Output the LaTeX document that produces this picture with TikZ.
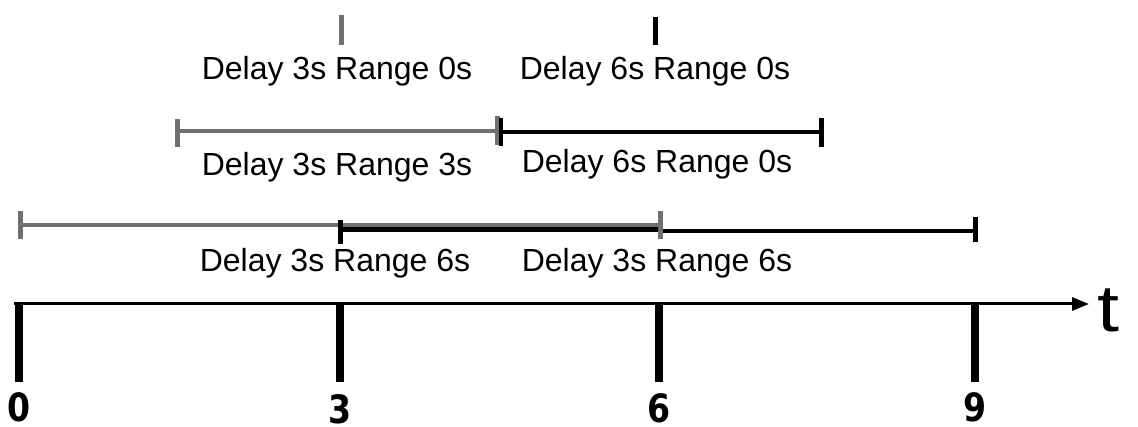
\documentclass[tikz,border=0pt]{standalone}
\usepackage{fontspec}
\setmainfont{Liberation Sans}
\newfontfamily\numfont{DejaVu Sans}
\usetikzlibrary{arrows.meta}
\definecolor{spangray}{HTML}{707070}
\newcommand{\ticknum}[1]{\scalebox{0.85}[1]{#1}}
\tikzset{
  lbl/.style={anchor=base, inner sep=0pt, font=\fontsize{32}{36}\selectfont},
  num/.style={anchor=base, inner sep=0pt, font=\numfont\bfseries\fontsize{39}{42}\selectfont},
  axisline/.style={line width=3pt, -{Triangle[length=17pt,width=13pt]}},
  bigtick/.style={line width=8pt},
  graybar/.style={line width=3.5pt, spangray},
  blackbar/.style={line width=3.5pt, black},
  graytick/.style={line width=5pt, spangray},
  blacktick/.style={line width=5pt, black},
}
\begin{document}
\begin{tikzpicture}[x=1pt, y=-1pt]
\useasboundingbox (0,0) rectangle (1138,427);

% time axis
\coordinate (a0) at (14,304);
\coordinate (aend) at (1089,304);
\draw[axisline] (a0) -- (aend);
\node[anchor=base west, inner sep=0pt, font=\fontsize{66}{72}\selectfont] (tlab) at (1097,332) {\scalebox{1.2}[1]{t}};

\foreach \x/\n/\b in {19/0/421, 340/3/424, 659/6/423, 975/9/421}{
  \coordinate (t\n a) at (\x,303);
  \coordinate (t\n b) at (\x,382);
  \draw[bigtick] (t\n a) -- (t\n b);
  \node[num] (n\n) at (\x,\b) {\ticknum{\n}};
}

% row 1: zero-range events
\coordinate (r1ga) at (341,15);  \coordinate (r1gb) at (341,45);
\coordinate (r1ka) at (655,17);  \coordinate (r1kb) at (655,45);
\draw[graytick] (r1ga) -- (r1gb);
\draw[blacktick] (r1ka) -- (r1kb);
\node[lbl] (l1a) at (337,80) {Delay 3s Range 0s};
\node[lbl] (l1b) at (655,80) {Delay 6s Range 0s};

% row 2
\coordinate (r2g0) at (177,131); \coordinate (r2g1) at (497,131);
\coordinate (r2k0) at (501,132); \coordinate (r2k1) at (821,132);
\draw[graybar] (r2g0) -- (r2g1);
\draw[blackbar] (r2k0) -- (r2k1);
\draw[graytick] ([yshift=-16pt]r2g0) -- ([yshift=12pt]r2g0);
\draw[line width=5pt, spangray] ([yshift=-14pt]r2g1) -- ([yshift=15pt]r2g1);
\draw[line width=4pt] ([yshift=-14pt]r2k0) -- ([yshift=14pt]r2k0);
\draw[blacktick] ([yshift=-15pt]r2k1) -- ([yshift=14pt]r2k1);
\node[lbl] (l2a) at (337,176) {Delay 3s Range 3s};
\node[lbl] (l2b) at (657,173) {Delay 6s Range 0s};

% row 3
\coordinate (r3g0) at (20,225); \coordinate (r3g1) at (660,225);
\coordinate (r3k0) at (340,230); \coordinate (r3k1) at (975,231);
\draw[line width=5pt] (r3k0) -- (r3g1 |- r3k0);
\draw[blackbar] (r3g1 |- r3k1) -- (r3k1);
\draw[graybar] (r3g0) -- (r3g1);
\draw[graytick] ([yshift=-14pt]r3g0) -- ([yshift=14pt]r3g0);
\draw[blacktick] ([yshift=-14pt]r3k0) -- ([yshift=10pt]r3k0);
\draw[graytick] ([yshift=-14pt]r3g1) -- ([yshift=14pt]r3g1);
\draw[blacktick] ([yshift=-11pt]r3k1) -- ([yshift=14pt]r3k1);
\node[lbl] (l3a) at (335,272) {Delay 3s Range 6s};
\node[lbl] (l3b) at (657,272) {Delay 3s Range 6s};
\end{tikzpicture}
\end{document}
